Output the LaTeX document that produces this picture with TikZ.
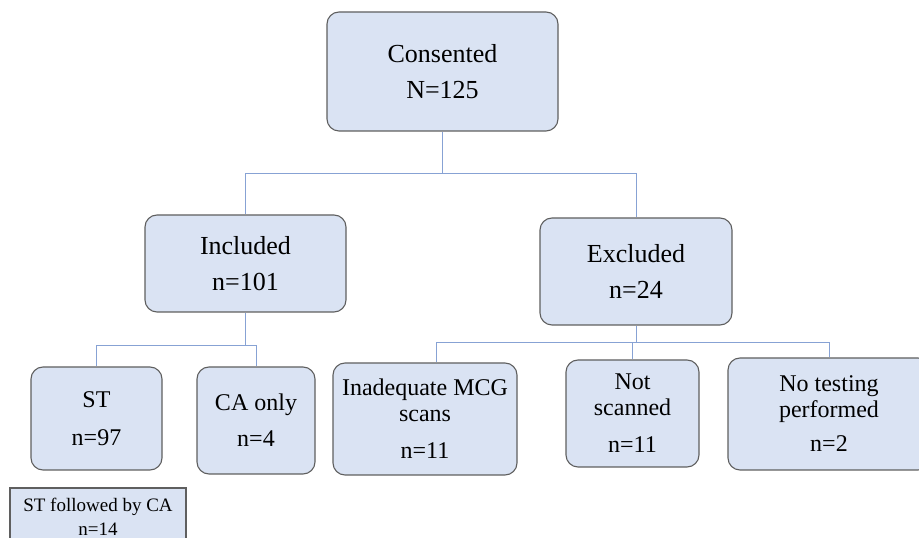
\documentclass[tikz,border=0pt]{standalone}
\usepackage{fontspec}
\setmainfont{Liberation Serif}
\usepackage{tikz}
\definecolor{boxfill}{RGB}{218,227,243}
\definecolor{boxline}{RGB}{95,95,95}
\definecolor{link}{RGB}{135,162,212}

\begin{document}
\begin{tikzpicture}[x=1pt, y=1pt,
    main/.style = {draw=boxline, line width=1.1pt, fill=boxfill, rounded corners=12pt, align=center, inner sep=0pt},
    big/.style = {main, font=\fontsize{26}{36}\selectfont},
    small/.style = {main, font=\fontsize{24}{26}\selectfont},
    conn/.style = {draw=link, line width=1pt}]
    \clip (0,0) rectangle (919,538);
    \node[big, minimum width=231pt, minimum height=119pt] (cons) at (442.5,466.5) {Consented\\N=125};
    \node[big, minimum width=201pt, minimum height=97pt] (inc) at (245.5,274.5) {Included\\n=101};
    \node[big, minimum width=192pt, minimum height=107pt] (exc) at (636,266.5) {Excluded\\n=24};
    \node[small, minimum width=131pt, minimum height=103pt] (st) at (96.5,119.5) {ST\\[12pt]n=97};
    \node[small, minimum width=118pt, minimum height=107pt] (ca) at (256,117.5) {CA only\\[10pt]n=4};
    \node[small, minimum width=184pt, minimum height=112pt] (inad) at (425,119) {Inadequate MCG\\scans\\[11pt]n=11};
    \node[small, minimum width=133pt, minimum height=107pt] (nots) at (632.5,124.5) {Not\\scanned\\[11pt]n=11};
    \node[small, minimum width=202pt, minimum height=112pt] (notest) at (829,124) {No testing\\performed\\[8pt]n=2};
    \node[main, rounded corners=0pt, font=\fontsize{19}{24}\selectfont, minimum width=176pt, minimum height=57pt] (stca) at (98,21.5) {ST followed by CA\\n=14};
    \draw[conn] (cons.south) -- ++(0,-42) coordinate (c1) -| (inc.north);
    \draw[conn] (c1) -| (exc.north);
    \draw[conn] (inc.south) -- ++(0,-33) coordinate (c2) -| (st.north);
    \draw[conn] (c2) -| (ca.north);
    \draw[conn] (exc.south) -- ++(0,-17) coordinate (c3) -| (nots.north);
    \draw[conn] (c3) -| ([xshift=11pt]inad.north);
    \draw[conn] (c3) -| (notest.north);
\end{tikzpicture}
\end{document}
